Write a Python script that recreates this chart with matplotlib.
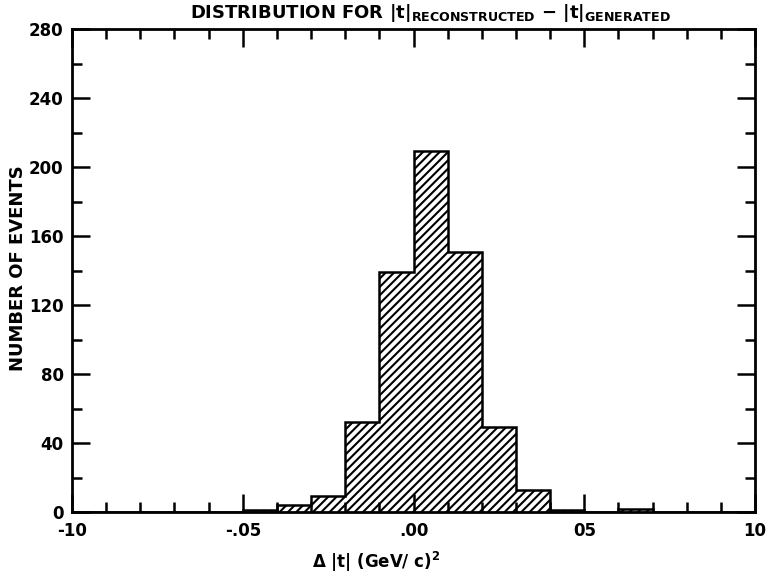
import numpy as np
import matplotlib
matplotlib.use("Agg")
from matplotlib import pyplot as plt
from matplotlib.ticker import MultipleLocator, FixedLocator

# histogram of delta |t|, bins of 0.01 (GeV/c)^2
bin_edges = [-0.10, -0.09, -0.08, -0.07, -0.06, -0.05, -0.04, -0.03, -0.02, -0.01,
             0.00, 0.01, 0.02, 0.03, 0.04, 0.05, 0.06, 0.07, 0.08, 0.09, 0.10]
counts = [0, 0, 0, 0, 0, 1, 4, 9, 52, 139, 209, 151, 49, 13, 1, 0, 2, 0, 0, 0]

xtick_vals = [-0.10, -0.05, 0.0, 0.05, 0.10]
xtick_labels = ["-10", "-.05", ".00", "05", "10"]
ytick_vals = [0, 40, 80, 120, 160, 200, 240, 280]

plt.rcParams['font.family'] = ['DejaVu Sans']
plt.rcParams['hatch.linewidth'] = 1.5
plt.rcParams['mathtext.fontset'] = 'custom'
plt.rcParams['mathtext.rm'] = 'DejaVu Sans:bold'
plt.rcParams['mathtext.it'] = 'DejaVu Sans:bold'
plt.rcParams['mathtext.bf'] = 'DejaVu Sans:bold'

fig = plt.figure(figsize=(7.66, 5.79), dpi=100)
ax = fig.add_axes([72/766, 67/579, 683/766, 483/579])

ax.stairs(counts, bin_edges, fill=True, facecolor='white', edgecolor='black',
          linewidth=1.8, hatch='////')

ax.set_xlim(-0.10, 0.10)
ax.set_ylim(0, 280)

ax.xaxis.set_major_locator(FixedLocator(xtick_vals))
ax.set_xticklabels(xtick_labels)
ax.xaxis.set_minor_locator(MultipleLocator(0.01))
ax.yaxis.set_major_locator(FixedLocator(ytick_vals))
ax.yaxis.set_minor_locator(MultipleLocator(20))

ax.tick_params(which='both', direction='in', top=True, right=True, width=1.8,
               labelsize=12)
ax.tick_params(which='major', length=13)
ax.tick_params(which='minor', length=7)
ax.tick_params(axis='x', pad=7)
ax.tick_params(axis='y', pad=6)
for lab in ax.get_xticklabels() + ax.get_yticklabels():
    lab.set_fontweight('bold')

for s in ax.spines.values():
    s.set_linewidth(2)

fig.text(430/766, 1 - 13/579,
         r"DISTRIBUTION FOR |t|$_{\mathrm{RECONSTRUCTED}}$ $-$ |t|$_{\mathrm{GENERATED}}$",
         ha='center', va='center', fontsize=13, fontweight='bold')
fig.text(18/766, 1 - 268/579, "NUMBER OF EVENTS", rotation=90, ha='center',
         va='center', fontsize=13, fontweight='bold')
fig.text(312/766, 1 - 562/579, r"$\Delta$ |t| (GeV/ c)$^{2}$", ha='left',
         va='center', fontsize=12, fontweight='bold')

plt.savefig("out.png", dpi=100)
